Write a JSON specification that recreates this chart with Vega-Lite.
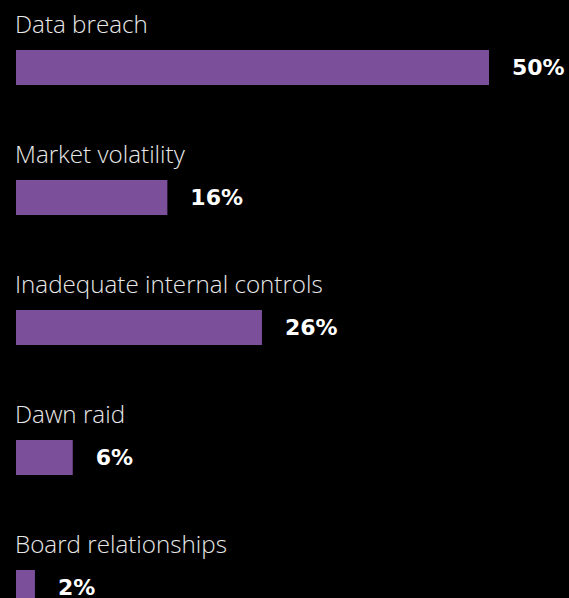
{
  "$schema": "https://vega.github.io/schema/vega-lite/v6.json",
  "width": 553,
  "height": 598,
  "autosize": {"type": "none"},
  "padding": {"left": 16, "top": 0, "right": 0, "bottom": 0},
  "background": "#000000",
  "config": {"view": {"stroke": null}},
  "data": {
    "values": [
      {"category": "Data breach", "value": 50, "label": "50%"},
      {"category": "Market volatility", "value": 16, "label": "16%"},
      {"category": "Inadequate internal controls", "value": 26, "label": "26%"},
      {"category": "Dawn raid", "value": 6, "label": "6%"},
      {"category": "Board relationships", "value": 2, "label": "2%"}
    ]
  },
  "encoding": {
    "y": {
      "field": "category",
      "type": "nominal",
      "sort": null,
      "axis": null,
      "scale": {"range": [2.5, 652.5], "paddingInner": 0, "paddingOuter": 0}
    }
  },
  "layer": [
    {
      "mark": {"type": "bar", "size": 35, "color": "#7b4f9a"},
      "encoding": {
        "x": {"field": "value", "type": "quantitative", "axis": null, "scale": {"domain": [0, 50], "range": [0, 473]}}
      }
    },
    {
      "mark": {"type": "text", "align": "left", "baseline": "middle", "dx": 23, "font": "DejaVu Sans", "fontWeight": "bold", "fontSize": 22, "color": "#ffffff"},
      "encoding": {
        "x": {"field": "value", "type": "quantitative"},
        "text": {"field": "label"}
      }
    },
    {
      "mark": {"type": "text", "align": "left", "baseline": "alphabetic", "dy": -34.5, "dx": -1, "font": "Open Sans", "fontWeight": 300, "fontSize": 24.2, "color": "#e8e8e8"},
      "encoding": {
        "x": {"datum": 0, "type": "quantitative"},
        "text": {"field": "category"}
      }
    }
  ]
}
